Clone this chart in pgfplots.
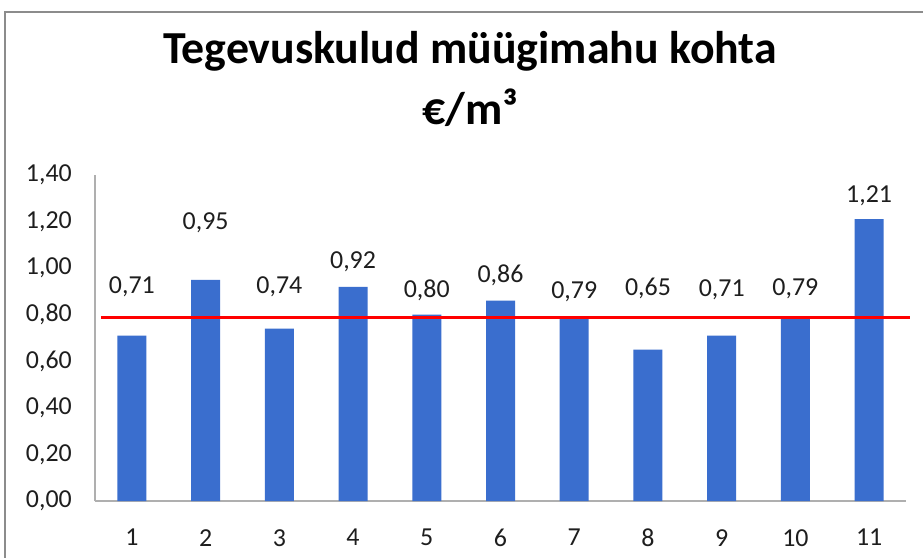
\documentclass[border=0pt]{standalone}
\usepackage{pgfplots}
\pgfplotsset{compat=1.18}
\usepackage{fontspec}
\setmainfont{Carlito}
\definecolor{barblue}{RGB}{58,110,206}
\definecolor{framegray}{RGB}{140,140,140}
\definecolor{axisgray}{RGB}{175,175,175}
\definecolor{txt}{RGB}{30,30,30}
\newcommand{\tickfont}{\fontsize{26}{28}\selectfont}
\begin{document}
\begin{tikzpicture}
\useasboundingbox (0bp,0bp) rectangle (923bp,558bp);
\fill[white] (0bp,0bp) rectangle (923bp,558bp);
\draw[framegray, line width=2bp] (5bp,-10bp) -- (5bp,546bp) -- (940bp,546bp);
\node[anchor=base, font=\fontsize{46}{50}\selectfont\bfseries] at (470bp,494bp) {Tegevuskulud müügimahu kohta};
\node[anchor=base, font=\fontsize{46}{50}\selectfont\bfseries] at (470bp,433bp) {€/m³};
\begin{axis}[
  at={(95bp,57bp)}, anchor=south west,
  width=811bp, height=326bp, scale only axis,
  xmin=0.5, xmax=11.5, ymin=0, ymax=1.4,
  axis x line=bottom, axis y line=left,
  axis line style={-, axisgray, line width=1.5bp},
  major tick length=0pt,
  xtick={1,2,3,4,5,6,7,8,9,10,11},
  xticklabels={1,2,3,4,5,6,7,8,9,10,11},
  ytick={0,0.2,0.4,0.6,0.8,1.0,1.2,1.4},
  /pgf/number format/assume math mode=true,
  tick label style={font=\tickfont, text=txt},
  yticklabel style={/pgf/number format/.cd, fixed, fixed zerofill, precision=2, use comma, /tikz/.cd,
     anchor=east, inner sep=0pt, xshift=-23bp},
  xticklabel style={anchor=north, inner sep=0pt, yshift=-28bp},
  clip=false,
]
\addplot[ybar, bar width=29bp, fill=barblue, draw=none] coordinates {
  (1,0.71) (2,0.95) (3,0.74) (4,0.92) (5,0.80) (6,0.86) (7,0.79) (8,0.65) (9,0.71) (10,0.79) (11,1.21)};
\addplot[red, line width=3bp] coordinates {(0.58,0.79) (11.55,0.79)};
\addplot[draw=none, mark=none, nodes near coords, point meta=explicit symbolic,
  every node near coord/.append style={anchor=center, inner sep=0pt, font=\tickfont, text=txt}]
  table[meta=lab] {
x y lab
1 0.918 0,71
2 1.197 0,95
3 0.918 0,74
4 1.028 0,92
5 0.906 0,80
6 0.970 0,86
7 0.899 0,79
8 0.913 0,65
9 0.906 0,71
10 0.913 0,79
11 1.311 1,21
};
\end{axis}
\end{tikzpicture}
\end{document}
